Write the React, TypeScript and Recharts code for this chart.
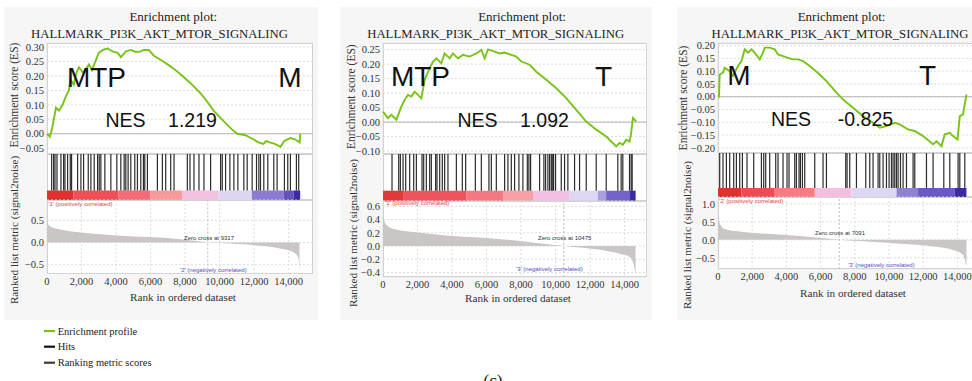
import React from 'react';
import { ComposedChart, Line, Area, XAxis, YAxis, CartesianGrid, ReferenceLine, ReferenceArea } from 'recharts';

const SERIF = 'Liberation Serif';
const SANS = 'Liberation Sans';
const GREEN = '#78c416';

const xTicks = [0, 2000, 4000, 6000, 8000, 10000, 12000, 14000];

// ---- panel 1 : MTP vs M
const p1EsRank = [0, 170, 300, 520, 700, 900, 1100, 1270, 1350, 1550, 1700, 1850, 2100, 2430, 2600, 2830, 3000, 3240, 3500, 3800, 4100, 4280, 4570, 4860, 5150, 5430, 5600, 5900, 6190, 6600, 6990, 7400, 7750, 8320, 8900, 9300, 9650, 10050, 10460, 10800, 11040, 11500, 11970, 12250, 12540, 12700, 12900, 13200, 13530, 13750, 14100, 14400, 14640, 14680];
const p1EsScore = [0, -0.01, 0.02, 0.09, 0.08, 0.1, 0.13, 0.15, 0.19, 0.17, 0.21, 0.23, 0.21, 0.24, 0.22, 0.255, 0.28, 0.29, 0.295, 0.285, 0.28, 0.265, 0.285, 0.29, 0.283, 0.285, 0.29, 0.29, 0.27, 0.255, 0.24, 0.222, 0.205, 0.175, 0.14, 0.11, 0.08, 0.055, 0.03, 0.01, 0, -0.005, -0.02, -0.03, -0.035, -0.025, -0.03, -0.035, -0.045, -0.025, -0.015, -0.02, -0.03, 0];
const p1Hits = [270, 385, 462, 578, 809, 963, 1040, 1195, 1350, 1425, 1773, 1965, 2120, 2390, 2543, 2736, 2930, 3025, 3120, 3352, 3700, 4046, 4277, 4470, 4566, 4700, 4855, 5086, 5240, 5433, 5587, 5664, 5818, 6396, 6685, 6878, 7167, 7360, 8130, 8285, 8516, 8805, 9094, 9479, 10057, 10153, 10346, 10597, 10828, 11059, 11405, 11598, 11887, 12138, 12273, 12369, 12561, 12793, 13140, 13332, 13756, 13949, 14103, 14450, 14584];
const p1RkRank = [0, 93, 290, 770, 1540, 2895, 4823, 6751, 8685, 9317, 10613, 12541, 13509, 14088, 14377, 14570, 14630];
const p1RkValue = [0.5, 0.39, 0.34, 0.29, 0.24, 0.19, 0.14, 0.105, 0.03, 0, -0.024, -0.083, -0.135, -0.19, -0.25, -0.36, -0.63];
const p1BarEdges = [0, 1540, 4150, 5980, 7820, 9940, 11870, 13700, 14280, 14670];
const p1BarColors = ['#e0312f', '#ef4f55', '#f46b78', '#f89a9c', '#f3c0e0', '#ddd6f3', '#8b7bd2', '#6552bb', '#3b2aa6'];
const p1EsTicks = [-0.05, 0, 0.05, 0.1, 0.15, 0.2, 0.25, 0.3];
const p1RkTicks = [-0.5, 0, 0.5];

// ---- panel 2 : MTP vs T
const p2EsRank = [0, 290, 485, 776, 1065, 1256, 1448, 1642, 1835, 2027, 2220, 2414, 2703, 2896, 3090, 3380, 3572, 3862, 4055, 4344, 4634, 5020, 5408, 5697, 5890, 6082, 6469, 6757, 7047, 7434, 7724, 8013, 8494, 8880, 9461, 10040, 10619, 11198, 11776, 12355, 12934, 13513, 13706, 13896, 14090, 14284, 14380, 14477, 14670];
const p2EsScore = [0.036, 0.014, 0.025, 0.008, 0.054, 0.077, 0.094, 0.088, 0.105, 0.094, 0.082, 0.146, 0.186, 0.209, 0.22, 0.203, 0.237, 0.22, 0.237, 0.22, 0.232, 0.226, 0.237, 0.249, 0.22, 0.251, 0.243, 0.237, 0.24, 0.232, 0.226, 0.209, 0.198, 0.174, 0.146, 0.117, 0.083, 0.042, 0.002, -0.026, -0.05, -0.084, -0.072, -0.078, -0.061, -0.067, -0.038, 0.014, 0.003];
const p2Hits = [521, 909, 1005, 1160, 1314, 1545, 1777, 1932, 2260, 2356, 2510, 2703, 2800, 3050, 3127, 3283, 3436, 3572, 3763, 4250, 4595, 4789, 5350, 5697, 6137, 6276, 6566, 7046, 7238, 7434, 7625, 7875, 8106, 8361, 8453, 8552, 9073, 9322, 9420, 9554, 9652, 9750, 9808, 9884, 9999, 10329, 10520, 10712, 11100, 11389, 11776, 12355, 12934, 13607, 13800, 13896, 14284, 14380, 14438];
const p2RkRank = [0, 98, 290, 776, 1737, 3671, 5599, 7527, 8880, 10475, 11389, 12738, 13705, 14284, 14516, 14632];
const p2RkValue = [0.49, 0.36, 0.3, 0.248, 0.21, 0.16, 0.127, 0.086, 0.045, 0, -0.024, -0.065, -0.115, -0.166, -0.27, -0.42];
const p2BarEdges = [0, 1160, 4830, 6950, 8690, 10810, 12450, 12930, 14280, 14640];
const p2BarColors = ['#e2383a', '#ef535c', '#f4787f', '#f8a0a6', '#f3bfe2', '#ddd7f4', '#aa9fe0', '#7262c9', '#3b2aa6'];
const p2EsTicks = [-0.1, -0.05, 0, 0.05, 0.1, 0.15, 0.2, 0.25];
const p2RkTicks = [-0.4, -0.2, 0, 0.2, 0.4, 0.6];

// ---- panel 3 : M vs T
const p3EsRank = [0, 58, 99, 293, 392, 684, 878, 1170, 1369, 1562, 1755, 1954, 2147, 2440, 2633, 2732, 3024, 3317, 3510, 3803, 4095, 4388, 4680, 4973, 5364, 5949, 6341, 6926, 7412, 7898, 8483, 9068, 9460, 9851, 10337, 10630, 11115, 11507, 11993, 12578, 12776, 13069, 13262, 13555, 13750, 14005, 14140, 14335, 14375, 14530];
const p3EsScore = [0, 0, 0.087, 0.094, 0.113, 0.1, 0.081, 0.12, 0.139, 0.185, 0.172, 0.185, 0.172, 0.146, 0.172, 0.192, 0.192, 0.185, 0.165, 0.159, 0.152, 0.146, 0.146, 0.139, 0.12, 0.087, 0.061, 0.016, -0.017, -0.043, -0.076, -0.102, -0.121, -0.115, -0.102, -0.108, -0.128, -0.134, -0.154, -0.186, -0.174, -0.193, -0.147, -0.141, -0.154, -0.167, -0.076, -0.069, -0.05, 0.009];
const p3Hits = [99, 293, 491, 684, 918, 1076, 1270, 1427, 1697, 2089, 2539, 2673, 2790, 3024, 3375, 3510, 3803, 4037, 4154, 4487, 4586, 4739, 4820, 4937, 5072, 5657, 6143, 6341, 7470, 7547, 7704, 8096, 8641, 8875, 9068, 9360, 9460, 9653, 9851, 10004, 10144, 10238, 10337, 10436, 10530, 10670, 10823, 11022, 11408, 11507, 12191, 12578, 13204, 13555, 14040, 14140, 14432];
const p3RkRank = [0, 99, 392, 1270, 2831, 4780, 6728, 7091, 8681, 10630, 12578, 13747, 14333, 14530];
const p3RkValue = [0.72, 0.46, 0.3, 0.23, 0.167, 0.11, 0.02, 0, -0.047, -0.11, -0.185, -0.28, -0.42, -0.74];
const p3BarEdges = [0, 1370, 3320, 5660, 7800, 10440, 11700, 13850, 14530];
const p3BarColors = ['#e0312f', '#ee4b52', '#f57c82', '#f5bde0', '#ddd7f4', '#8f82d5', '#6a59c3', '#3b2aa0'];
const p3EsTicks = [-0.2, -0.15, -0.1, -0.05, 0, 0.05, 0.1, 0.15, 0.2];
const p3RkTicks = [-0.5, 0, 0.5, 1.0];

type Pt = { rank: number; v: number };
const toPoints = (ranks: number[], values: number[]): Pt[] => ranks.map((rank, i) => ({ rank, v: values[i] }));

const fmtEs = (v: number) => (v < -1e-9 ? '\u2212' : '') + Math.abs(v).toFixed(2);
const fmtRk = (v: number) => (v < -1e-9 ? '\u2212' : '') + Math.abs(v).toFixed(1);
const fmtX = (v: number) => v.toLocaleString('en-US');

interface PanelSpec {
  bg: { left: number; top: number; width: number; height: number };
  L: number; R: number; esTop: number; esBot: number; cbTop: number; cbBot: number; rkBot: number;
  xMax: number;
  esDomain: [number, number]; esTicks: number[];
  rkDomain: [number, number]; rkTicks: number[];
  es: Pt[]; rk: Pt[]; hits: number[]; edges: number[]; colors: string[]; zeroCross: number;
}

const panels: PanelSpec[] = [
  {
    bg: { left: 4, top: 7, width: 314, height: 313 },
    L: 46.7, R: 313.3, esTop: 43.3, esBot: 154, cbTop: 190.5, cbBot: 200, rkBot: 273.5, xMax: 15446,
    esDomain: [-0.069, 0.314], esTicks: p1EsTicks, rkDomain: [-0.7, 0.955], rkTicks: p1RkTicks,
    es: toPoints(p1EsRank, p1EsScore), rk: toPoints(p1RkRank, p1RkValue), hits: p1Hits,
    edges: p1BarEdges, colors: p1BarColors, zeroCross: 9317,
  },
  {
    bg: { left: 340, top: 7, width: 312, height: 313 },
    L: 383.3, R: 647, esTop: 43.3, esBot: 154, cbTop: 190.7, cbBot: 200.7, rkBot: 276.7, xMax: 15278,
    esDomain: [-0.109, 0.273], esTicks: p2EsTicks, rkDomain: [-0.468, 0.68], rkTicks: p2RkTicks,
    es: toPoints(p2EsRank, p2EsScore), rk: toPoints(p2RkRank, p2RkValue), hits: p2Hits,
    edges: p2BarEdges, colors: p2BarColors, zeroCross: 10475,
  },
  {
    bg: { left: 677, top: 7, width: 300, height: 313 },
    L: 718.3, R: 982, esTop: 43.3, esBot: 153.3, cbTop: 188.3, cbBot: 197.3, rkBot: 269.3, xMax: 15420,
    esDomain: [-0.22, 0.21], esTicks: p3EsTicks, rkDomain: [-0.81, 1.19], rkTicks: p3RkTicks,
    es: toPoints(p3EsRank, p3EsScore), rk: toPoints(p3RkRank, p3RkValue), hits: p3Hits,
    edges: p3BarEdges, colors: p3BarColors, zeroCross: 7091,
  },
];

const YW = 44;
const XH = 20;
const PAD = 8; // room above/below the plots so edge tick labels are not clipped
const noMargin = { top: 0, right: 0, bottom: 0, left: 0 };
const padMargin = { top: PAD, right: 0, bottom: PAD, left: 0 };
const tickStyle = { fontSize: 10.5, fill: '#333', fontFamily: SERIF, style: { fontFamily: SERIF } };

const Panel: React.FC<{ p: PanelSpec }> = ({ p }) => {
  const plotW = p.R - p.L;
  const hitsH = p.cbBot - p.esBot;
  const cbFrac = (p.cbBot - p.cbTop) / hitsH;
  const box = (top: number, h: number): React.CSSProperties => ({
    position: 'absolute', left: p.L, top, width: plotW, height: h,
    background: '#fff', border: '1px solid #cfcfcf', boxSizing: 'border-box',
  });
  return (
    <>
      <div style={{ position: 'absolute', ...p.bg, background: '#f6f6f6' }} />
      <div style={box(p.esTop, p.esBot - p.esTop)} />
      <div style={box(p.esBot, hitsH)} />
      <div style={box(p.cbBot, p.rkBot - p.cbBot)} />

      <div style={{ position: 'absolute', left: p.L - YW, top: p.esTop - PAD }}>
        <ComposedChart width={YW + plotW} height={p.esBot - p.esTop + 2 * PAD} data={p.es} margin={padMargin}>
          <CartesianGrid stroke="#dcdcdc" strokeDasharray="2 2" />
          <XAxis dataKey="rank" type="number" domain={[0, p.xMax]} ticks={xTicks} height={0} tick={false} axisLine={false} tickLine={false} />
          <YAxis type="number" domain={p.esDomain} ticks={p.esTicks} interval={0} width={YW} tickFormatter={fmtEs}
            axisLine={false} tickLine={false} tickSize={2} tickMargin={1} tick={tickStyle} />
          <ReferenceLine y={0} stroke="#b5b5b5" />
          <Line dataKey="v" type="linear" stroke={GREEN} strokeWidth={1.9} dot={false} isAnimationActive={false} />
        </ComposedChart>
      </div>

      <div style={{ position: 'absolute', left: p.L, top: p.esBot }}>
        <ComposedChart width={plotW} height={hitsH} data={p.hits.map((rank) => ({ rank, v: 1 }))} margin={noMargin}>
          <XAxis dataKey="rank" type="number" domain={[0, p.xMax]} height={0} tick={false} axisLine={false} tickLine={false} />
          <YAxis type="number" domain={[0, 1]} width={0} tick={false} axisLine={false} tickLine={false} />
          {p.colors.map((c, i) => (
            <ReferenceArea key={'c' + i} x1={p.edges[i]} x2={p.edges[i + 1]} y1={0} y2={cbFrac}
              fill={c} fillOpacity={1} stroke="none" ifOverflow="visible" />
          ))}
          {p.hits.map((h, i) => (
            <ReferenceLine key={'h' + i} segment={[{ x: h, y: cbFrac }, { x: h, y: 1 }]}
              stroke="#151515" strokeOpacity={0.9} strokeWidth={1.2} ifOverflow="visible" />
          ))}
          <Line dataKey="v" stroke="none" dot={false} activeDot={false} isAnimationActive={false} />
        </ComposedChart>
      </div>

      <div style={{ position: 'absolute', left: p.L - YW, top: p.cbBot - PAD }}>
        <ComposedChart width={YW + plotW} height={p.rkBot - p.cbBot + XH + PAD} data={p.rk} margin={{ top: PAD, right: 0, bottom: 0, left: 0 }}>
          <CartesianGrid stroke="#dcdcdc" strokeDasharray="2 2" />
          <XAxis dataKey="rank" type="number" domain={[0, p.xMax]} ticks={xTicks} interval={0} height={XH}
            tickFormatter={fmtX} axisLine={false} tickLine={false} tickSize={4} tickMargin={0} tick={tickStyle} />
          <YAxis type="number" domain={p.rkDomain} ticks={p.rkTicks} interval={0} width={YW} tickFormatter={fmtRk}
            axisLine={false} tickLine={false} tickSize={2} tickMargin={1} tick={tickStyle} />
          <ReferenceLine x={p.zeroCross} stroke="#bbbbbb" strokeDasharray="2 2" />
          <Area dataKey="v" type="monotone" baseValue={0} fill="#cac6c6" fillOpacity={1} stroke="none" isAnimationActive={false} />
        </ComposedChart>
      </div>
    </>
  );
};

// text placed over the three panels
const titleX = [173.3, 522, 841.5];
const geneSetX = [159.5, 495.7, 840];
const esLabelPos = [[14, 95], [350.7, 96.7], [682.7, 98]];
const rkLabelPos = [[14, 230], [352.7, 233], [686.7, 235]];
const xLabelPos = [[183, 296.7], [518, 298], [853, 292.7]];
const groupLabels = [
  { text: 'MTP', x: 96.5, y: 77.5 }, { text: 'M', x: 290, y: 77.5 },
  { text: 'MTP', x: 420.5, y: 76.5 }, { text: 'T', x: 603.5, y: 76.5 },
  { text: 'M', x: 739, y: 75 }, { text: 'T', x: 927.5, y: 75 },
];
const nesLabels = [
  { text: 'NES', x: 125.5, y: 119.5 }, { text: '1.219', x: 192.5, y: 119.5 },
  { text: 'NES', x: 477.5, y: 119.5 }, { text: '1.092', x: 544.5, y: 119.5 },
  { text: 'NES', x: 791, y: 119 }, { text: '-0.825', x: 865.5, y: 119 },
];
const smallNotes = [
  { text: 'Zero cross at 9317', x: 184, y: 237.7, c: '#333' },
  { text: "'1' (positively correlated)", x: 48.3, y: 204, c: '#e8414b' },
  { text: "'2' (negatively correlated)", x: 180, y: 270, c: '#5a46c8' },
  { text: 'Zero cross at 10475', x: 538, y: 238.3, c: '#333' },
  { text: "'1' (positively correlated)", x: 385, y: 203.3, c: '#e8414b' },
  { text: "'3' (negatively correlated)", x: 516, y: 269.3, c: '#5a46c8' },
  { text: 'Zero cross at 7091', x: 815, y: 233.3, c: '#333' },
  { text: "'2' (positively correlated)", x: 719, y: 201, c: '#e8414b' },
  { text: "'3' (negatively correlated)", x: 848, y: 265.3, c: '#5a46c8' },
];
const legendItems = [
  { text: 'Enrichment profile', color: GREEN, y: 331 },
  { text: 'Hits', color: '#111', y: 346.7 },
  { text: 'Ranking metric scores', color: '#3a3a3a', y: 362.7 },
];

const serifStyle = { fontFamily: SERIF };
const sansStyle = { fontFamily: SANS };

export default function App() {
  return (
    <div style={{ position: 'absolute', left: 0, top: 0, width: 972, height: 381, overflow: 'hidden', background: '#fff' }}>
      {panels.map((p, i) => <Panel key={i} p={p} />)}
      <svg width={972} height={381} style={{ position: 'absolute', left: 0, top: 0, pointerEvents: 'none' }}>
        {titleX.map((x, i) => (
          <g key={'t' + i} fill="#222">
            <text x={x} y={16.5} textAnchor="middle" dominantBaseline="central" style={serifStyle} fontSize={13}>Enrichment plot:</text>
            <text x={geneSetX[i]} y={34} textAnchor="middle" dominantBaseline="central" style={serifStyle} fontSize={12.6}
              textLength={257} lengthAdjust="spacingAndGlyphs">HALLMARK_PI3K_AKT_MTOR_SIGNALING</text>
          </g>
        ))}
        {esLabelPos.map(([x, y], i) => (
          <text key={'e' + i} x={x} y={y} transform={`rotate(-90 ${x} ${y})`} textAnchor="middle" dominantBaseline="central" style={serifStyle} fontSize={11.5} fill="#333">Enrichment score (ES)</text>
        ))}
        {rkLabelPos.map(([x, y], i) => (
          <text key={'r' + i} x={x} y={y} transform={`rotate(-90 ${x} ${y})`} textAnchor="middle" dominantBaseline="central" style={serifStyle} fontSize={11.2} fill="#333">Ranked list metric (signal2noise)</text>
        ))}
        {xLabelPos.map(([x, y], i) => (
          <text key={'x' + i} x={x} y={y} textAnchor="middle" dominantBaseline="central" style={serifStyle} fontSize={11.2} fill="#333">Rank in ordered dataset</text>
        ))}
        {groupLabels.map((g, i) => (
          <text key={'g' + i} x={g.x} y={g.y} textAnchor="middle" dominantBaseline="central" style={sansStyle} fontSize={28} fill="#111">{g.text}</text>
        ))}
        {nesLabels.map((g, i) => (
          <text key={'n' + i} x={g.x} y={g.y} textAnchor="middle" dominantBaseline="central" style={sansStyle} fontSize={19.5} fill="#111">{g.text}</text>
        ))}
        {smallNotes.map((s, i) => (
          <text key={'s' + i} x={s.x} y={s.y} dominantBaseline="central" style={sansStyle} fontSize={6} fill={s.c}>{s.text}</text>
        ))}
        {legendItems.map((l, i) => (
          <g key={'l' + i}>
            <line x1={44} x2={55} y1={l.y} y2={l.y} stroke={l.color} strokeWidth={2.2} />
            <text x={57.7} y={l.y} dominantBaseline="central" style={serifStyle} fontSize={10.5} fill="#222">{l.text}</text>
          </g>
        ))}
        <text x={493} y={386} textAnchor="middle" style={serifStyle} fontSize={17} fill="#222">(c)</text>
      </svg>
    </div>
  );
}
